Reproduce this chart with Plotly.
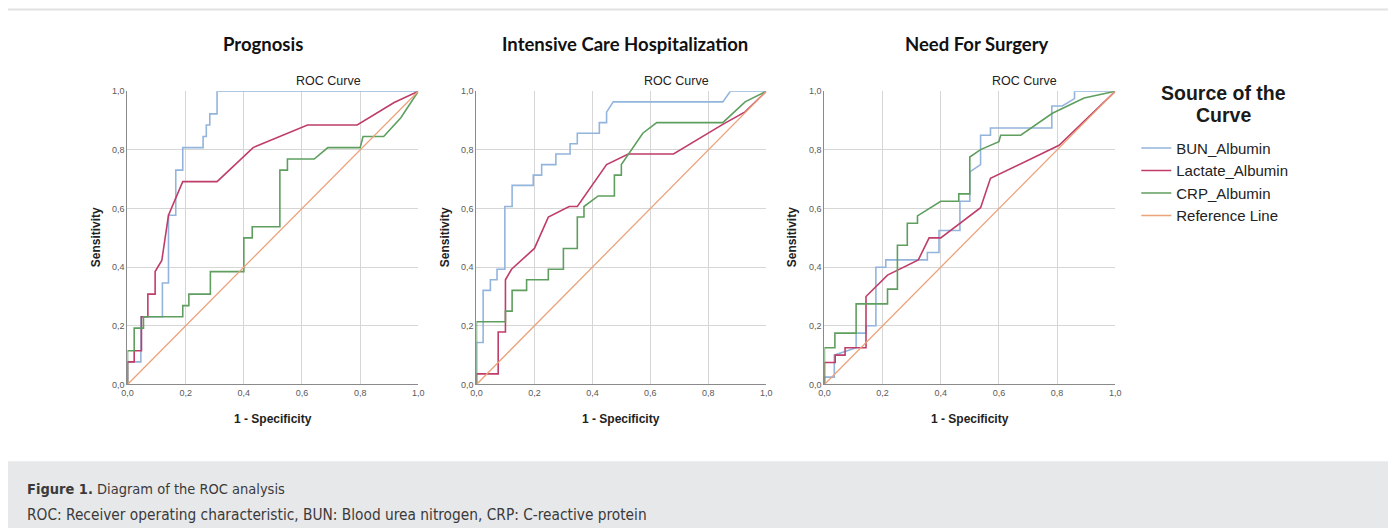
import plotly.graph_objects as go

# ---------------- data ----------------
PANEL_TITLES = ["Prognosis", "Intensive Care Hospitalization", "Need For Surgery"]
SERIES = ["BUN_Albumin", "Lactate_Albumin", "CRP_Albumin", "Reference Line"]
TICK_VALS = [0.0, 0.2, 0.4, 0.6, 0.8, 1.0]
TICK_TEXT = ["0,0", "0,2", "0,4", "0,6", "0,8", "1,0"]

# Prognosis
P1_BUN_X = [0, 0, 0.046, 0.046, 0.12, 0.12, 0.141, 0.141, 0.166, 0.166, 0.19, 0.19, 0.26, 0.26, 0.271, 0.271, 0.283, 0.283, 0.308, 0.308, 1.0]
P1_BUN_Y = [0, 0.077, 0.077, 0.231, 0.231, 0.346, 0.346, 0.577, 0.577, 0.731, 0.731, 0.808, 0.808, 0.846, 0.846, 0.885, 0.885, 0.923, 0.923, 1.0, 1.0]
P1_LAC_X = [0, 0, 0.023, 0.023, 0.048, 0.048, 0.07, 0.07, 0.095, 0.095, 0.118, 0.141, 0.19, 0.308, 0.432, 0.619, 0.79, 0.917, 1.0]
P1_LAC_Y = [0, 0.077, 0.077, 0.115, 0.115, 0.231, 0.231, 0.308, 0.308, 0.385, 0.423, 0.577, 0.692, 0.692, 0.808, 0.885, 0.885, 0.962, 1.0]
P1_CRP_X = [0, 0, 0.023, 0.023, 0.055, 0.055, 0.19, 0.19, 0.211, 0.211, 0.285, 0.285, 0.4, 0.4, 0.429, 0.429, 0.524, 0.524, 0.55, 0.55, 0.642, 0.689, 0.8, 0.81, 0.881, 0.94, 1.0]
P1_CRP_Y = [0, 0.115, 0.115, 0.192, 0.192, 0.231, 0.231, 0.269, 0.269, 0.308, 0.308, 0.385, 0.385, 0.5, 0.5, 0.538, 0.538, 0.731, 0.731, 0.769, 0.769, 0.808, 0.808, 0.846, 0.846, 0.91, 1.0]

# Intensive Care Hospitalization
P2_BUN_X = [0, 0, 0.023, 0.023, 0.048, 0.048, 0.071, 0.071, 0.098, 0.098, 0.123, 0.123, 0.196, 0.196, 0.225, 0.225, 0.274, 0.274, 0.323, 0.323, 0.348, 0.348, 0.424, 0.424, 0.449, 0.449, 0.472, 0.85, 0.876, 1.0]
P2_BUN_Y = [0, 0.143, 0.143, 0.321, 0.321, 0.357, 0.357, 0.393, 0.393, 0.607, 0.607, 0.679, 0.679, 0.714, 0.714, 0.75, 0.75, 0.786, 0.786, 0.821, 0.821, 0.857, 0.857, 0.893, 0.893, 0.929, 0.964, 0.964, 1.0, 1.0]
P2_LAC_X = [0, 0, 0.075, 0.075, 0.1, 0.1, 0.121, 0.2, 0.248, 0.32, 0.348, 0.4, 0.449, 0.524, 0.68, 0.85, 0.927, 1.0]
P2_LAC_Y = [0, 0.036, 0.036, 0.179, 0.179, 0.357, 0.393, 0.464, 0.571, 0.607, 0.607, 0.679, 0.75, 0.786, 0.786, 0.887, 0.93, 1.0]
P2_CRP_X = [0, 0, 0.1, 0.1, 0.123, 0.123, 0.173, 0.173, 0.248, 0.248, 0.3, 0.3, 0.348, 0.348, 0.371, 0.371, 0.42, 0.476, 0.476, 0.5, 0.5, 0.524, 0.574, 0.622, 0.85, 0.927, 1.0]
P2_CRP_Y = [0, 0.214, 0.214, 0.25, 0.25, 0.321, 0.321, 0.357, 0.357, 0.393, 0.393, 0.464, 0.464, 0.571, 0.571, 0.607, 0.643, 0.643, 0.714, 0.714, 0.75, 0.786, 0.857, 0.893, 0.893, 0.964, 1.0]

# Need For Surgery
P3_BUN_X = [0, 0, 0.034, 0.034, 0.109, 0.109, 0.143, 0.143, 0.177, 0.177, 0.211, 0.211, 0.354, 0.354, 0.394, 0.394, 0.466, 0.466, 0.5, 0.5, 0.537, 0.537, 0.571, 0.571, 0.782, 0.782, 0.818, 0.86, 0.86, 1.0]
P3_BUN_Y = [0, 0.025, 0.025, 0.1, 0.125, 0.175, 0.175, 0.2, 0.2, 0.4, 0.4, 0.425, 0.425, 0.45, 0.45, 0.525, 0.525, 0.625, 0.625, 0.725, 0.75, 0.85, 0.85, 0.875, 0.875, 0.95, 0.95, 0.975, 1.0, 1.0]
P3_LAC_X = [0, 0, 0.037, 0.037, 0.071, 0.071, 0.143, 0.143, 0.217, 0.323, 0.36, 0.4, 0.537, 0.571, 0.807, 1.0]
P3_LAC_Y = [0, 0.075, 0.075, 0.1, 0.1, 0.125, 0.125, 0.3, 0.373, 0.425, 0.5, 0.5, 0.603, 0.703, 0.816, 1.0]
P3_CRP_X = [0, 0, 0.036, 0.036, 0.109, 0.109, 0.217, 0.217, 0.251, 0.251, 0.285, 0.285, 0.32, 0.32, 0.4, 0.462, 0.462, 0.5, 0.5, 0.537, 0.6, 0.606, 0.675, 0.784, 0.893, 1.0]
P3_CRP_Y = [0, 0.125, 0.125, 0.175, 0.175, 0.275, 0.275, 0.325, 0.325, 0.475, 0.475, 0.55, 0.55, 0.575, 0.625, 0.625, 0.65, 0.65, 0.776, 0.801, 0.828, 0.85, 0.85, 0.925, 0.977, 1.0]

REF_X = [0.0, 1.0]
REF_Y = [0.0, 1.0]

PANELS = [
    [(P1_BUN_X, P1_BUN_Y), (P1_LAC_X, P1_LAC_Y), (P1_CRP_X, P1_CRP_Y), (REF_X, REF_Y)],
    [(P2_BUN_X, P2_BUN_Y), (P2_LAC_X, P2_LAC_Y), (P2_CRP_X, P2_CRP_Y), (REF_X, REF_Y)],
    [(P3_BUN_X, P3_BUN_Y), (P3_LAC_X, P3_LAC_Y), (P3_CRP_X, P3_CRP_Y), (REF_X, REF_Y)],
]

# ---------------- style / geometry ----------------
W, H = 1396, 528
# the page is photographed with its body margin; map target-image pixels to layout pixels
SX, SY = 1396 / 1412, 528 / 544
OX, OY = 16, 16

COLORS = ["#93b4dc", "#bf3d68", "#5e9e5e", "#eca27a"]
PX_X = [(129, 419), (477, 766), (824, 1114)]
PX_Y = (93, 383)
TITLE_X = [264, 625, 976]
ARIAL = "Liberation Sans, Arial, sans-serif"


def fx(px):
    return (px / SX - OX) / W


def fy(py):
    return 1 - (py / SY - OY) / H


fig = go.Figure()

for p, series in enumerate(PANELS):
    ax = "" if p == 0 else str(p + 1)
    for s, (xs, ys) in enumerate(series):
        fig.add_trace(go.Scatter(
            x=xs, y=ys, mode="lines", name=SERIES[s],
            line=dict(color=COLORS[s], width=1.6 if s < 3 else 1.3),
            xaxis="x" + ax, yaxis="y" + ax,
            showlegend=(p == 0), legendgroup=SERIES[s],
            hoverinfo="skip",
        ))

axis_common = dict(
    range=[0, 1], tickvals=TICK_VALS, ticktext=TICK_TEXT,
    showgrid=True, gridcolor="#d6d6d6", gridwidth=1,
    zeroline=False, showline=True, linecolor="#8a8a8a", linewidth=1.2,
    ticks="", tickfont=dict(family=ARIAL, size=9, color="#5a5a5a"),
    fixedrange=True,
)

layout = dict(
    width=W, height=H,
    margin=dict(l=0, r=0, t=0, b=0),
    paper_bgcolor="white", plot_bgcolor="white",
    font=dict(family=ARIAL, color="#222"),
    legend=dict(
        x=fx(1135), y=fy(133), xanchor="left", yanchor="top",
        font=dict(family=ARIAL, size=15, color="#222"),
        bgcolor="rgba(0,0,0,0)", tracegroupgap=0, itemwidth=30,
    ),
    shapes=[], annotations=[],
)

for p in range(3):
    ax = "" if p == 0 else str(p + 1)
    x0, x1 = PX_X[p]
    layout["xaxis" + ax] = dict(axis_common, domain=[fx(x0), fx(x1)], anchor="y" + ax)
    layout["yaxis" + ax] = dict(axis_common, domain=[fy(PX_Y[1]), fy(PX_Y[0])], anchor="x" + ax)
    cx = (x0 + x1) / 2
    layout["annotations"].append(dict(
        text="<b>" + PANEL_TITLES[p] + "</b>", x=fx(TITLE_X[p]), y=fy(46),
        xref="paper", yref="paper", showarrow=False,
        font=dict(family="Lato, Open Sans, sans-serif", size=18.5, color="#111"),
        xanchor="center", yanchor="middle"))
    layout["annotations"].append(dict(
        text="ROC Curve", x=fx(cx + 55), y=fy(83), xref="paper", yref="paper",
        showarrow=False, font=dict(family=ARIAL, size=12.5, color="#222"),
        xanchor="center", yanchor="middle"))
    layout["annotations"].append(dict(
        text="<b>1 - Specificity</b>", x=fx(cx), y=fy(417), xref="paper", yref="paper",
        showarrow=False, font=dict(family=ARIAL, size=12, color="#222"),
        xanchor="center", yanchor="middle"))
    layout["annotations"].append(dict(
        text="<b>Sensitivity</b>", x=fx(x0 - 32), y=fy(237), xref="paper", yref="paper",
        showarrow=False, textangle=-90, font=dict(family=ARIAL, size=12, color="#222"),
        xanchor="center", yanchor="middle"))

# legend heading (two centred lines)
for txt, yy in (("Source of the", 95), ("Curve", 116)):
    layout["annotations"].append(dict(
        text="<b>" + txt + "</b>", x=fx(1222), y=fy(yy), xref="paper", yref="paper",
        showarrow=False, xanchor="center", yanchor="middle",
        font=dict(family=ARIAL, size=19.5, color="#1a1a1a")))

# frame and caption band
layout["shapes"] += [
    dict(type="rect", xref="paper", yref="paper", x0=fx(8), x1=1.0, y0=0, y1=fy(459),
         fillcolor="#e7e8ea", line=dict(width=0), layer="below"),
    dict(type="line", xref="paper", yref="paper", x0=fx(8), x1=1.0, y0=fy(12), y1=fy(12),
         line=dict(color="#e2e2e2", width=2)),
    dict(type="line", xref="paper", yref="paper", x0=fx(8), x1=fx(8), y0=fy(12), y1=fy(459),
         line=dict(color="#e2e2e2", width=2)),
]
CAPTION_FONT = "Liberation Sans Narrow, DejaVu Sans Condensed, Arial Narrow, sans-serif"
layout["annotations"] += [
    dict(text="<b>Figure 1.</b> Diagram of the ROC analysis", x=fx(27), y=fy(486),
         xref="paper", yref="paper", showarrow=False, xanchor="left", yanchor="middle",
         font=dict(family=CAPTION_FONT, size=14.5, color="#3a3a3a")),
    dict(text="ROC: Receiver operating characteristic, BUN: Blood urea nitrogen, CRP: C-reactive protein",
         x=fx(27), y=fy(512), xref="paper", yref="paper", showarrow=False,
         xanchor="left", yanchor="middle",
         font=dict(family=CAPTION_FONT, size=15.3, color="#3a3a3a")),
]

fig.update_layout(**layout)
fig.write_html("out.html")
